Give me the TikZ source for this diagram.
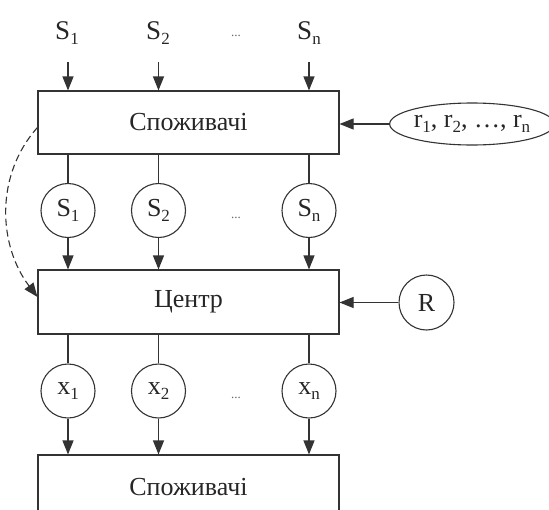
\documentclass[tikz,border=0pt]{standalone}
\usepackage{fontspec}
\setmainfont{Liberation Serif}
\usetikzlibrary{arrows.meta,shapes.geometric}
\newcommand{\mysub}[1]{\raisebox{-0.4ex}{\fontsize{17}{17}\selectfont #1}}
\begin{document}
\begin{tikzpicture}[x=1pt,y=-1pt,
  every node/.style={font=\fontsize{26}{28}\selectfont, text=black!85},
  ln/.style={draw=black!80, line width=1.1pt},
  arr/.style={ln, -{Triangle[length=14pt,width=11pt]}},
  box/.style={ln, rectangle, minimum width=301pt, minimum height=63pt, inner sep=0pt},
  circ/.style={ln, circle, minimum size=54pt, inner sep=0pt},
  dots/.style={font=\fontsize{13}{13}\selectfont, text=black!60},
  lab/.style={inner sep=0pt, font=\fontsize{27}{29}\selectfont}]
\useasboundingbox (0,0) rectangle (549,509);
% top labels
\node[lab] (l1) at (67,33) {S\mysub{1}};
\node[lab] (l2) at (158,33) {S\mysub{2}};
\node[dots] (ld) at (236,36) {...};
\node[lab] (l3) at (309,33) {S\mysub{n}};
\coordinate (t1) at (68,62);
\coordinate (t2) at (158.5,62);
\coordinate (t3) at (309,62);
% boxes
\node[box] (top) at (188.5,122.5) {Споживачі};
\node[box, minimum height=64pt] (ctr) at (188.5,302) {Центр};
\node[box, minimum height=64pt] (bot) at (188.5,487) {Споживачі};
% ellipse and R
\node[ln, ellipse, minimum width=146pt, minimum height=42pt, inner sep=0pt] (rr) at (472,124) {r\mysub{1}, r\mysub{2}, …, r\mysub{n}};
\node[circ, minimum size=55pt] (R) at (426.5,302.5) {R};
% S circles
\node[circ] (s1) at (68,210.5) {S\mysub{1}};
\node[circ] (s2) at (158.5,210.5) {S\mysub{2}};
\node[dots] (sd) at (236,218) {...};
\node[circ] (s3) at (309,210.5) {S\mysub{n}};
% x circles
\node[circ] (x1) at (68,391) {x\mysub{1}};
\node[circ] (x2) at (158.5,391) {x\mysub{2}};
\node[dots] (xd) at (236,398) {...};
\node[circ] (x3) at (309,391) {x\mysub{n}};
% arrows top
\foreach \t in {t1,t2,t3} \draw[arr] (\t) -- (\t |- top.north);
\draw[arr] (rr.west) -- (rr.west -| top.east);
% box to S circles
\foreach \s in {s1,s2,s3} {
  \draw[ln] (\s |- top.south) -- (\s.north);
  \draw[arr] (\s.south) -- (\s |- ctr.north);
}
\draw[arr] (R.west) -- (R.west -| ctr.east);
\foreach \s in {x1,x2,x3} {
  \draw[ln] (\s |- ctr.south) -- (\s.north);
  \draw[arr] (\s.south) -- (\s |- bot.north);
}
% dashed feedback
\draw[arr, dashed, dash pattern=on 7pt off 4pt] ([yshift=-5pt]top.west) .. controls (-5,175) and (-2,245) .. ([yshift=5pt]ctr.west);
\end{tikzpicture}
\end{document}
